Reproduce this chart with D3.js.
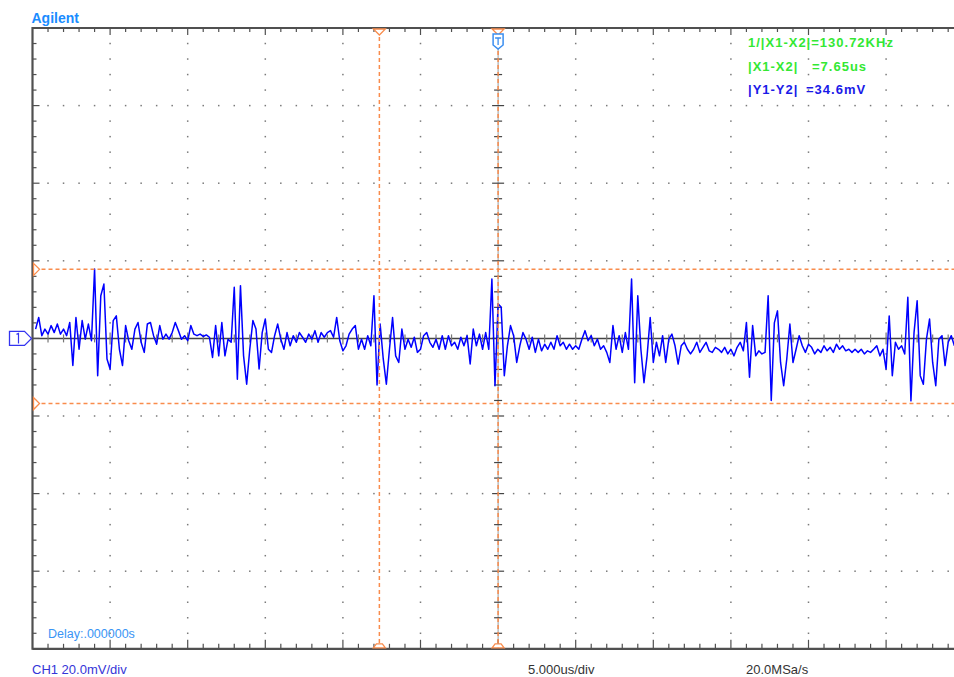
<!DOCTYPE html>
<html><head><meta charset="utf-8">
<script src="https://cdn.jsdelivr.net/npm/d3@7"></script>
<style>
body{margin:0;background:#fff;}
svg{display:block;font-family:Arial,"Liberation Sans",sans-serif;}
</style>
</head><body>
<svg id="c" width="954" height="677"></svg>
<script>
// ---- data (mV, CH1) sampled every 0.2 us starting at -29.8 us ----
const ch1Values = [
 2.4, 5.4, 0.7, 2.4, 1.1, 3.3, 1.5, 3.7, 1.1, 2.4,
 0.7, 4.1, -7, 5.4, -2.8, 4.6, -0.2, 3.7, -0.6, 17.9,
 -9.6, 11, 14, -5.3, -7.9, 4.6, 5.8, -2.8, -7, 3.3,
 -0.6, -2.8, 2.4, 4.1, -1, -3.6, 3.7, 4.1, 0.7, -1.5,
 3.3, -0.2, 1.1, -0.2, 1.5, 4.1, 2, -0.2, 0.7, -0.6,
 3.3, 1.1, 0.7, 1.1, 0.5, 0.9, 0.3, -4.9, 3.3, -4.5,
 4.1, -4.5, -0.2, -1, 13.2, -10.5, 13.6, -4.5, -11.8, -2.8,
 4.6, 2.4, -7.9, 1.5, 5, -2.8, -3.6, 0.7, 3.7, -0.2,
 -2.8, 1.5, -1.9, 0.7, -1, 1.5, 0.3, -1, 1.1, -0.2,
 2, -1, 1.5, 0.3, 1.5, 2, 0.3, 5.4, -0.6, -3.2,
 -1.9, 1.1, 2.4, 3.3, -2.8, -0.2, -2.8, 0.7, -1.9, 11,
 -12, 3.7, -5.3, -11.8, -2.8, 5.4, -4.5, -6.2, 2.4, -2.8,
 -0.2, -2.3, 0.3, -3.6, -2.8, 0.7, 1.5, -1, -2.3, -0.2,
 -2.8, 0.7, -2.8, 0.7, -1.9, -1, -2.8, 0.3, -1.9, 0.7,
 -6.6, 2.4, -1.9, 1.1, -2.8, 1.5, -2.8, 15.3, -12.2, 8.9,
 8, -9.6, -1.9, 3.3, 0.7, -6.2, -1.9, 1.5, -0.2, -2.8,
 0.3, -3.6, -0.2, -3.2, -1.5, -2.8, -1, -2.8, 0.7, -1.9,
 -1, -2.8, -1.5, -2.8, -1.9, -2.8, -0.2, 2, -0.6, 0.7,
 -1.9, -0.2, -2.8, -1.9, -3.6, -6.2, 3.3, -2.8, 0.7, -3.6,
 1.5, -2.8, 15.3, -11.4, 11, -2.8, -11.4, -4.5, 5.4, -6.2,
 -1, -4.5, 0.7, -6.2, -0.2, 1.1, -1.9, -6.6, -1.9, -1,
 -2.8, -4, -2.8, -1, -3.6, -2.3, -1, -3.2, -3.6, -2.3,
 -2.8, -3.6, -2.3, -4, -2.8, -4.5, -2.3, -1, -3.2, 4.1,
 -10, 3.3, -4.5, -3.2, -4, -3.6, 11, -16, 4, 7.1,
 -6.2, -12.2, -5.3, 3.7, -6.2, -2.8, 0.7, -1.9, -3.6, -1.5,
 -2.3, -4, -2.8, -3.6, -1.9, -3.2, -2.3, -3.6, -1.5, -2.8,
 -1.9, -3.2, -2.8, -3.6, -2.8, -3.6, -2.8, -4, -3.2, -3.6,
 -2.8, -1.9, -4.5, -2.8, -7.9, 5.8, -9.6, -1, -2.8, -1.9,
 -4, 10.6, -16.1, 1.5, 9.7, -9.6, -11.8, -0.2, 5, -6.2,
 -12.2, -0.2, 0.7, -7, -1, 0.7, -1.9
];
const sampleStartUs = -29.8;
const sampleStepUs = 0.2;
const timeDomainUs = [-30, 30];      // 12 div x 5 us
const voltDomainMv = [-80, 80];      // 8 div x 20 mV
const cursorXUs = [-7.65, 0];        // X1, X2
const cursorYMv = [17.8, -16.8];     // Y1, Y2
const readoutLabels = ["1/|X1-X2|=130.72KHz", "|X1-X2|", "|Y1-Y2|"];
const readoutValues = ["", "=7.65us", "=34.6mV"];
const footerLabels = ["CH1 20.0mV/div", "5.000us/div", "20.0MSa/s"];
const delayLabel = "Delay:.000000s";
const brandLabel = "Agilent";

// ---- layout ----
const svg = d3.select("#c");
const L = 32.5, T = 28, DIV = 77.6;
const R = L + 12 * DIV, B = T + 8 * DIV, VIS_R = 954;
const x = d3.scaleLinear().domain(timeDomainUs).range([L, R]);
const y = d3.scaleLinear().domain(voltDomainMv).range([B, T]);
const orange = "#f98c4c", frame = "#505050";

const minorT = d3.range(-30, 30.001, 1);
const minorV = d3.range(-80, 80.001, 4);
const isMajT = t => Math.abs(t % 5) < 1e-6;
const isMajV = v => Math.abs(v % 20) < 1e-6;

// grid dots
const g = svg.append("g");
const dots = [];
[-25,-20,-15,-10,-5,5,10,15,20,25].forEach(t => minorV.forEach(v => { if (Math.abs(v) < 80) dots.push([x(t), y(v)]); }));
[-60,-40,-20,20,40,60].forEach(v => minorT.forEach(t => { if (t > -30 && !isMajT(t)) dots.push([x(t), y(v)]); }));
g.selectAll("rect.dot").data(dots).join("rect").attr("class","dot")
  .attr("x", d => d[0]-0.75).attr("y", d => d[1]-0.75).attr("width",1.5).attr("height",1.5).attr("fill","#7a7a7a");

// center vertical axis
g.append("line").attr("x1", x(0)).attr("x2", x(0)).attr("y1", T).attr("y2", B).attr("stroke","#9a9a9a").attr("stroke-width",1);
g.selectAll("line.cvt").data(minorV.filter(v => Math.abs(v) < 80)).join("line").attr("class","cvt")
  .attr("x1", v => x(0) - (isMajV(v)?6:4)).attr("x2", v => x(0) + (isMajV(v)?6:4))
  .attr("y1", v => y(v)).attr("y2", v => y(v)).attr("stroke","#444").attr("stroke-width",1.2);
// center horizontal axis
g.append("line").attr("x1", L).attr("x2", VIS_R).attr("y1", y(0)).attr("y2", y(0)).attr("stroke","#444").attr("stroke-width",1.5);
g.selectAll("line.cht").data(minorT.filter(t => t > -30)).join("line").attr("class","cht")
  .attr("x1", t => x(t)).attr("x2", t => x(t))
  .attr("y1", t => y(0) - (isMajT(t)?6:4)).attr("y2", t => y(0) + (isMajT(t)?6:4)).attr("stroke","#777").attr("stroke-width",1.2);

// frame
g.append("line").attr("x1", L).attr("x2", VIS_R).attr("y1", T).attr("y2", T).attr("stroke",frame).attr("stroke-width",2.2);
g.append("line").attr("x1", L).attr("x2", VIS_R).attr("y1", B).attr("y2", B).attr("stroke",frame).attr("stroke-width",2.2);
g.append("line").attr("x1", L).attr("x2", L).attr("y1", T-1).attr("y2", B+1).attr("stroke",frame).attr("stroke-width",2.2);
g.selectAll("line.tt").data(minorT.filter(t => t > -30)).join("line").attr("class","tt")
  .attr("x1", t => x(t)).attr("x2", t => x(t)).attr("y1", T).attr("y2", t => T + (isMajT(t)?7:4)).attr("stroke",frame).attr("stroke-width",1.2);
g.selectAll("line.bt").data(minorT.filter(t => t > -30)).join("line").attr("class","bt")
  .attr("x1", t => x(t)).attr("x2", t => x(t)).attr("y1", B).attr("y2", t => B - (isMajT(t)?9:5)).attr("stroke",frame).attr("stroke-width",1.2);
g.selectAll("line.lt").data(minorV.filter(v => Math.abs(v) < 80)).join("line").attr("class","lt")
  .attr("x1", L).attr("x2", v => L + (isMajV(v)?7:4)).attr("y1", v => y(v)).attr("y2", v => y(v)).attr("stroke",frame).attr("stroke-width",1.2);

// trace
const pts = ch1Values.map((v, i) => [sampleStartUs + i * sampleStepUs, v]);
svg.append("path").datum(pts)
  .attr("d", d3.line().x(d => x(d[0])).y(d => y(d[1])))
  .attr("fill","none").attr("stroke","#0000ff").attr("stroke-width",1.5).attr("stroke-linejoin","round");

// cursors
const cg = svg.append("g");
cg.selectAll("line.cx").data(cursorXUs).join("line").attr("class","cx")
  .attr("x1", d => x(d)).attr("x2", d => x(d)).attr("y1", T+2).attr("y2", B-2)
  .attr("stroke", orange).attr("stroke-width",1.5).attr("stroke-dasharray","4,3");
cg.selectAll("line.cy").data(cursorYMv).join("line").attr("class","cy")
  .attr("x1", L+2).attr("x2", VIS_R).attr("y1", d => y(d)).attr("y2", d => y(d))
  .attr("stroke", orange).attr("stroke-width",1.5).attr("stroke-dasharray","4,3");
cg.selectAll("path.cxt").data(cursorXUs).join("path").attr("class","cxt")
  .attr("d", d => `M${x(d)-6},${T+1}L${x(d)+6},${T+1}L${x(d)},${T+7}Z`)
  .attr("fill","#fff").attr("stroke", orange).attr("stroke-width",1.3);
cg.selectAll("path.cxb").data(cursorXUs).join("path").attr("class","cxb")
  .attr("d", d => `M${x(d)-6},${B-1}L${x(d)-3},${B-5}L${x(d)+3},${B-5}L${x(d)+6},${B-1}Z`)
  .attr("fill","#fff").attr("stroke", orange).attr("stroke-width",1.3);
cg.selectAll("path.cyl").data(cursorYMv).join("path").attr("class","cyl")
  .attr("d", d => `M${L+1},${y(d)-6}L${L+7},${y(d)}L${L+1},${y(d)+6}Z`)
  .attr("fill","#fff").attr("stroke", orange).attr("stroke-width",1.3);

// trigger marker (top) and channel marker (left)
const tx = x(0);
svg.append("path").attr("d", `M${tx-5},${T+6}L${tx+5},${T+6}L${tx+5},${T+17}L${tx},${T+21}L${tx-5},${T+17}Z`)
  .attr("fill","#fff").attr("stroke","#3a8ef0").attr("stroke-width",1.5);
svg.append("path").attr("d", `M${tx-3},${T+10}L${tx+3},${T+10}M${tx},${T+10}L${tx},${T+17}`)
  .attr("stroke","#3a8ef0").attr("stroke-width",1.3).attr("fill","none");
const cy0 = y(0);
svg.append("path").attr("d", `M9.5,${cy0-7}L24.5,${cy0-7}L31.5,${cy0}L24.5,${cy0+7}L9.5,${cy0+7}Z`)
  .attr("fill","#fff").attr("stroke","#3434f0").attr("stroke-width",1.3);
svg.append("path").attr("d", `M16.5,${cy0-4}L18.5,${cy0-5}L18.5,${cy0+5}`)
  .attr("fill","none").attr("stroke","#3434f0").attr("stroke-width",1.2);

// texts
svg.append("text").attr("x", 31.5).attr("y", 23).text(brandLabel)
  .attr("fill","#1a8cff").attr("font-weight","bold").attr("font-size",14);
const rg = svg.append("g").attr("font-size",13).attr("font-weight","bold").attr("letter-spacing",1);
const rColors = ["#33e833", "#33e833", "#1a1ae8"];
const rBase = [47, 70.5, 94];
const rValX = [null, 812, 806];
readoutLabels.forEach((s, i) => {
  rg.append("text").attr("x", 748).attr("y", rBase[i]).attr("fill", rColors[i]).text(s);
  if (readoutValues[i]) rg.append("text").attr("x", rValX[i]).attr("y", rBase[i]).attr("fill", rColors[i]).text(readoutValues[i]);
});
svg.append("text").attr("x", 48).attr("y", 638).text(delayLabel).attr("fill","#3a95f5").attr("font-size",12.5);
const fx = [32, 528, 746];
const fc = ["#3535d8", "#333", "#333"];
footerLabels.forEach((s, i) => {
  svg.append("text").attr("x", fx[i]).attr("y", 674).text(s).attr("fill", fc[i]).attr("font-size",13);
});
</script>
</body></html>
